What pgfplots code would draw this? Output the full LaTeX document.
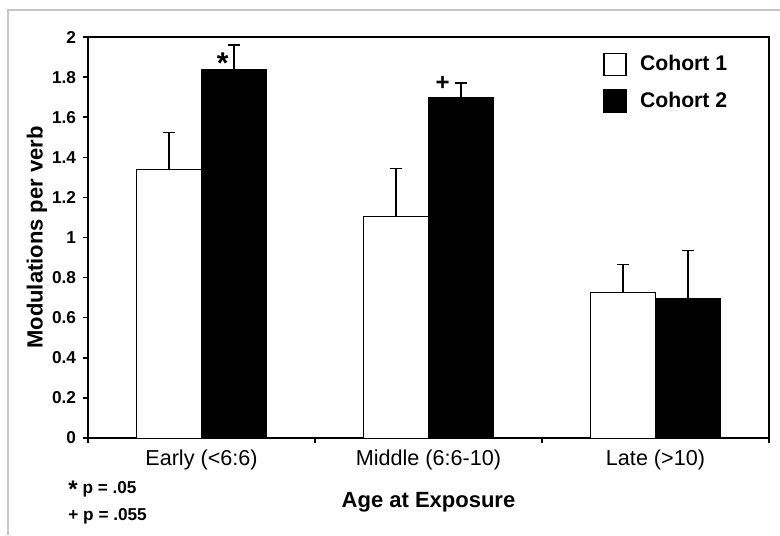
\documentclass[border=0pt]{standalone}
\usepackage{pgfplots}
\pgfplotsset{compat=1.18}
\usepackage{fontspec}
\setmainfont{Liberation Sans}
\begin{document}
\begin{tikzpicture}
\useasboundingbox (0,0) rectangle (390pt,267.5pt);
\draw[gray!45, line width=0.6pt] (4pt,0) -- (4pt,262.5pt) -- (390pt,262.5pt);
\begin{axis}[
  at={(44pt,48.5pt)}, anchor=south west,
  scale only axis, width=340.5pt, height=200.5pt,
  ybar=0pt, bar width=32.5pt,
  xmin=-0.5, xmax=2.5, ymin=0, ymax=2,
  xtick={0,1,2},
  xticklabels={Early (<6:6), Middle (6:6-10), Late (>10)},
  minor xtick={-0.5,0.5,1.5,2.5},
  ytick={0,0.2,0.4,0.6,0.8,1,1.2,1.4,1.6,1.8,2},
  xtick pos=bottom, ytick pos=left,
  tick align=outside,
  major tick length=2.5pt, minor tick length=2.5pt,
  x tick style={draw=none},
  minor x tick style={draw=black, line width=0.7pt},
  y tick style={black, line width=0.7pt},
  axis line style={line width=0.75pt},
  /pgf/number format/assume math mode=true,
  xticklabel style={font=\fontsize{10.8}{12}\selectfont},
  yticklabel style={font=\bfseries\fontsize{8.6}{10}\selectfont},
  xlabel={Age at Exposure},
  ylabel={Modulations per verb},
  label style={font=\bfseries\fontsize{11}{13}\selectfont},
  xlabel style={at={(axis description cs:0.5,-0.16)}, anchor=center},
  ylabel style={at={(axis description cs:-0.075,0.5)}, anchor=center},
  legend image code/.code={\draw[#1, line width=0.8pt] (0pt,-5.5pt) rectangle (11pt,5.5pt); \path[draw=none, fill=none] (0pt,0pt) -- (16pt,0pt);},
  legend style={at={(axis description cs:0.756,0.965)}, anchor=north west, draw=none, fill=none,
    font=\bfseries\fontsize{10.6}{12}\selectfont, row sep=5pt, inner sep=0pt},
  legend cell align=left,
  clip=false,
  error bars/y dir=plus, error bars/y explicit,
  error bars/error bar style={line width=0.7pt, black},
  error bars/error mark options={rotate=90, mark size=3pt, line width=0.7pt, black},
]
\addplot[fill=white, draw=black, line width=0.5pt] coordinates {
  (0,1.34) +- (0,0.185)
  (1,1.105) +- (0,0.24)
  (2,0.725) +- (0,0.14)
};
\addlegendentry{Cohort 1}
\addplot[fill=black, draw=black, line width=0.5pt] coordinates {
  (0,1.84) +- (0,0.12)
  (1,1.70) +- (0,0.07)
  (2,0.695) +- (0,0.24)
};
\addlegendentry{Cohort 2}
\node[font=\bfseries\fontsize{15}{16}\selectfont, anchor=center] at (axis cs:0.093,1.87) {*};
\node[font=\bfseries\fontsize{12}{14}\selectfont, anchor=center] at (axis cs:1.062,1.77) {+};
\end{axis}
\node[anchor=west, font=\bfseries\fontsize{8.6}{10}\selectfont, inner sep=0pt] at (34pt,23pt) {\raisebox{-0.35ex}{\fontsize{12}{12}\selectfont *} p = .05};
\node[anchor=west, font=\bfseries\fontsize{8.6}{10}\selectfont, inner sep=0pt] at (34pt,9.5pt) {+ p = .055};
\end{tikzpicture}
\end{document}
